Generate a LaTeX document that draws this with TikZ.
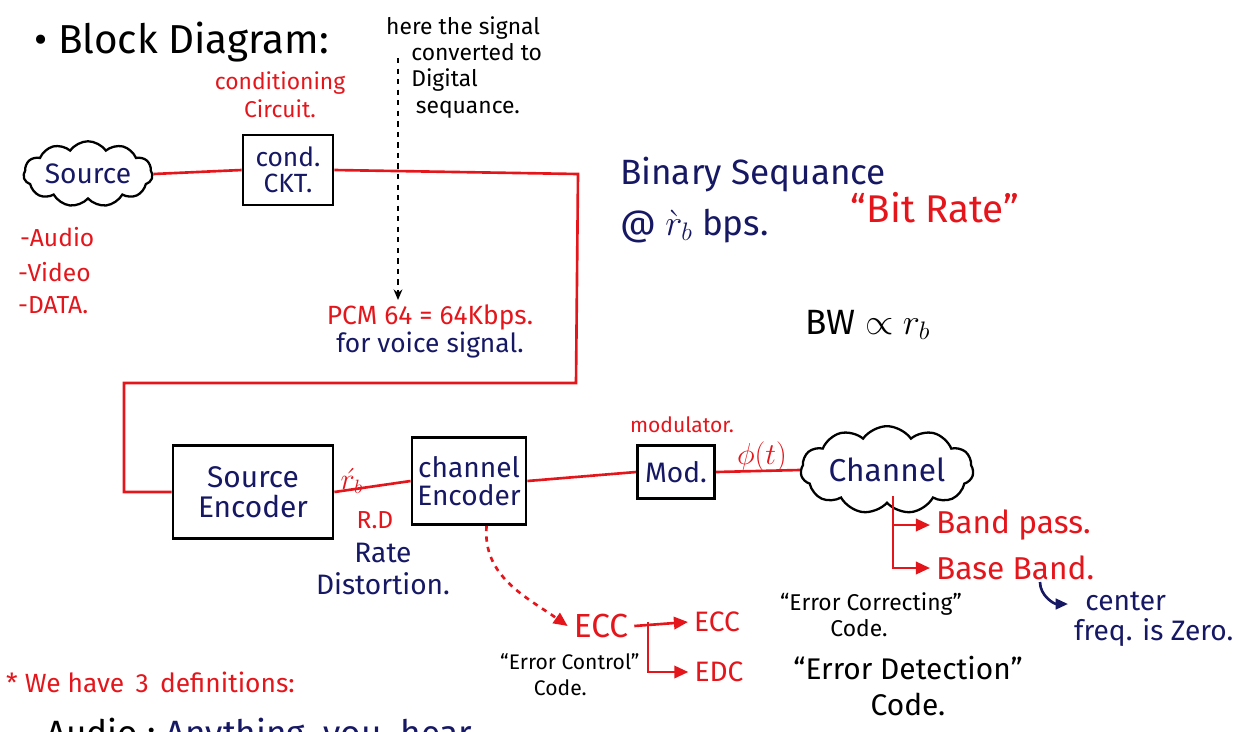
\documentclass[tikz,border=0pt]{standalone}
\usepackage{fontspec}
\setmainfont{Fira Sans}
\usepackage{xcolor}
\definecolor{pnred}{RGB}{228,22,28}
\definecolor{pnnavy}{RGB}{22,24,100}
\usepackage{tikz}
\usetikzlibrary{shapes.symbols,arrows.meta,positioning}
\newcommand{\fs}[1]{\fontsize{#1}{#1}\selectfont}
\tikzset{
  blk/.style={draw, line width=1.6pt, align=center, text=pnnavy, inner sep=3pt, font=\fs{15}},
  cld/.style={draw, cloud, cloud puffs=11, cloud puff arc=110, aspect=2.6, line width=1.3pt, text=pnnavy, inner sep=1pt, font=\fs{16}},
  wire/.style={pnred, line width=1.5pt},
  arr/.style={wire, -{Triangle[length=8pt,width=7pt]}},
  rtxt/.style={text=pnred, align=left},
  ntxt/.style={text=pnnavy, align=left},
  ktxt/.style={text=black, align=left}
}

\begin{document}
\begin{tikzpicture}[x=0.02cm, y=-0.02cm]
  \useasboundingbox (0,0) rectangle (1247,731);
  \clip (0,0) rectangle (1247,731);
  % titles and notes
  \node[ktxt, anchor=west, font=\fs{23}] (title) at (28,42) {\textbullet\ Block Diagram:};
  \node[ktxt, anchor=north west, font=\fontsize{13}{15}\selectfont] (here) at (380,10) {here the signal\\ \hspace{1.1em}converted to\\ \hspace{1.1em}Digital\\ \hspace{1.3em}sequance.};
  \node[rtxt, align=center, font=\fontsize{13}{16}\selectfont] (condl) at (280,95) {conditioning\\Circuit.};
  \node[rtxt, anchor=west, font=\fs{14}] (aud) at (14,237) {-Audio};
  \node[rtxt, anchor=west, font=\fs{14}] (vid) at (12,272) {-Video};
  \node[rtxt, anchor=west, font=\fs{14}] (dat) at (12,305) {-DATA.};
  \node[ntxt, align=center, font=\fontsize{15}{14}\selectfont] (pcm) at (430,331) {{\color{pnred}PCM 64 = 64Kbps.}\\for voice signal.};
  \node[ntxt, anchor=west, font=\fs{20}, inner sep=1pt] (bin) at (618,175) {Binary Sequance};
  \node[ntxt, anchor=west, font=\fs{20}, inner sep=1pt] (bps) at (618,226) {@ $\grave{r}_b$ bps.};
  \node[rtxt, font=\fs{22}] (bitr) at (935,208) {“Bit Rate”};
  \node[ktxt, font=\fs{20}] (bw) at (868,325) {BW $\propto$ $r_b$};
  % blocks
  \node[cld, minimum width=2.4cm, minimum height=1.1cm] (src) at (88,174) {Source};
  \node[blk, minimum width=1.8cm, minimum height=1.4cm] (cond) at (288,170) {cond.\\CKT.};
  \node[blk, minimum width=3.2cm, minimum height=1.86cm, font=\fs{17}] (senc) at (253,492) {Source\\Encoder};
  \node[blk, minimum width=2.16cm, minimum height=1.74cm, font=\fs{16}] (cenc) at (469,481) {channel\\Encoder};
  \node[blk, minimum width=1.54cm, minimum height=1.06cm, font=\fs{16}] (mod) at (676,472) {Mod.};
  \node[cld, minimum width=3.14cm, minimum height=1.2cm, font=\fs{18}] (chan) at (887,470) {Channel};
  % labels on the chain
  \node[rtxt, font=\fs{16}] (rbl) at (352,481) {$\acute{r}_b$};
  \node[rtxt, font=\fs{14}] (rd) at (375,520) {R.D};
  \node[ntxt, align=center, font=\fontsize{16}{18}\selectfont] (rate) at (383,569) {Rate\\Distortion.};
  \node[rtxt, font=\fs{12}] (modl) at (682,425) {modulator.};
  \node[rtxt, font=\fs{16}] (phil) at (762,457) {$\phi(t)$};
  \node[rtxt, anchor=west, font=\fs{18}] (bp) at (930,525) {Band pass.};
  \node[rtxt, anchor=west, font=\fs{18}] (bb) at (930,568) {Base Band.};
  \node[ntxt, anchor=north west, font=\fontsize{16}{17}\selectfont] (cfz) at (1068,586) {\hspace{0.4em}center\\freq. is Zero.};
  % error codes
  \node[rtxt, font=\fs{19}] (ecc) at (601,626) {ECC};
  \node[rtxt, font=\fs{16}] (ecc2) at (717,622) {ECC};
  \node[rtxt, font=\fs{16}] (edc) at (719,672) {EDC};
  \node[ktxt, anchor=north west, font=\fontsize{12}{15}\selectfont] (ctrl) at (494,647) {“Error Control”\\\hspace{1.6em}Code.};
  \node[ktxt, anchor=north west, font=\fontsize{13}{15}\selectfont] (corr) at (774,586) {“Error Correcting”\\\hspace{2.2em}Code.};
  \node[ktxt, align=center, font=\fontsize{17}{20}\selectfont] (det) at (908,686) {“Error Detection”\\Code.};
  \node[rtxt, anchor=west, font=\fs{15}] (defs) at (0,682) {* We have\, 3\, definitions:};
  \node[ntxt, anchor=base west, font=\fs{20}] (audl) at (40,745) {{\color{black}Audio :}\ Anything\ \ you\ \ hear.};
  % red signal path
  \coordinate (c1) at (578,174);
  \coordinate (c2) at (576,383);
  \coordinate (c3) at (124,383);
  \coordinate (c4) at (124,492);
  \draw[wire] (src.east) -- (cond.west);
  \draw[wire] (cond.east) -- (c1) -- (c2) -- (c3) -- (c4) -- (senc.west);
  \draw[wire] (senc.east) -- (cenc.west);
  \draw[wire] (cenc.east) -- (mod.west);
  \draw[wire] (mod.east) -- (chan.west);
  % where the signal turns digital
  \coordinate (dtop) at (398,58);
  \coordinate (dbot) at (398,300);
  \draw[black, line width=1.2pt, dashed, -{Stealth[length=6pt,width=5pt]}] (dtop) -- (dbot);
  % channel kinds
  \coordinate (cj) at (893,496);
  \draw[arr] (cj) |- (bp.west);
  \draw[arr] (cj) |- (bb.west);
  \coordinate (hk) at (1040,582);
  \draw[pnnavy, line width=1.5pt, -{Triangle[length=7pt,width=6pt]}] (hk) to[out=-90, in=180] (cfz.north west |- 0,604);
  % error control branches
  \draw[arr, dashed] ([xshift=10pt]cenc.south) to[out=-95, in=145] (ecc.west);
  \coordinate (eb) at (648,622);
  \draw[arr] (ecc.east) -- (ecc2.west);
  \draw[arr] (eb) |- (edc.west);
\end{tikzpicture}
\end{document}
